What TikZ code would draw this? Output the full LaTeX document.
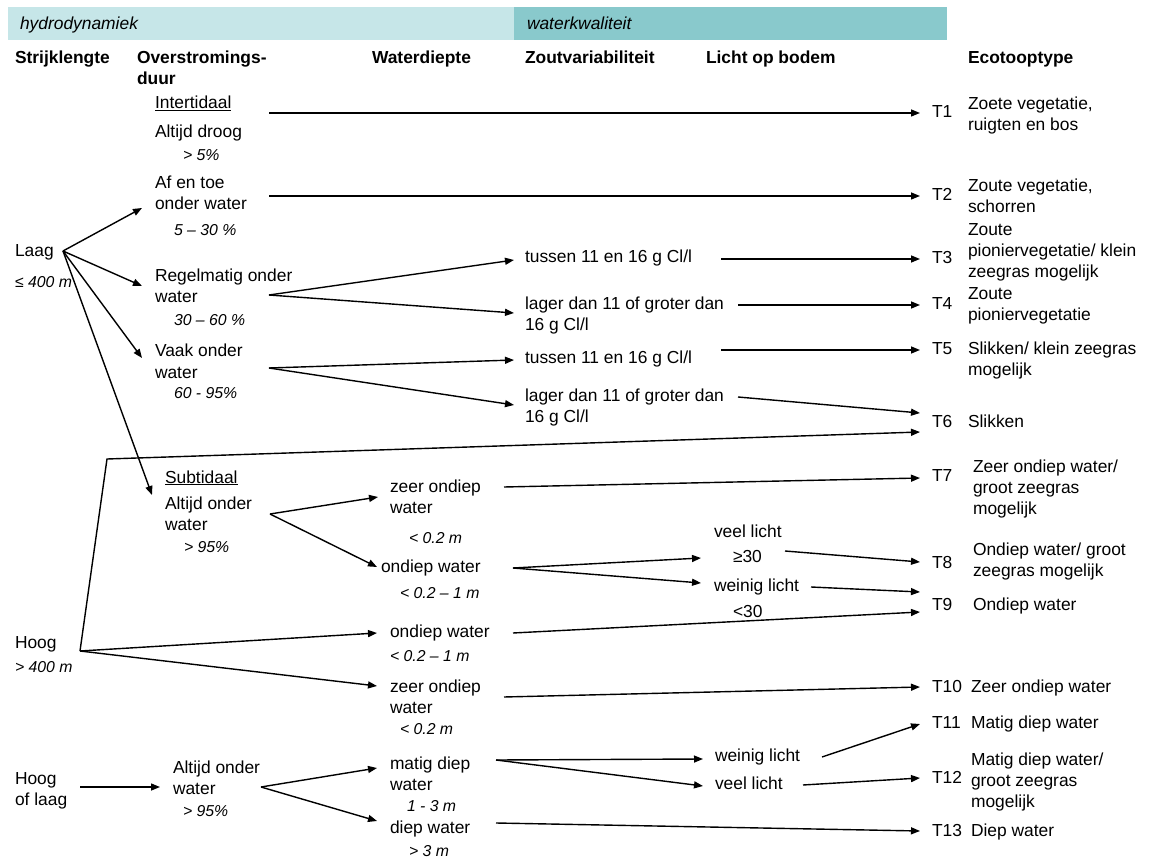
\documentclass[tikz,border=0pt]{standalone}
\usepackage{fontspec}
\setmainfont{Liberation Sans}
\usetikzlibrary{arrows.meta}
\definecolor{bandlight}{RGB}{198,230,232}
\definecolor{banddark}{RGB}{137,201,204}
\newcommand\fnreg{\fontsize{17.4}{21}\selectfont}
\newcommand\fnital{\fontsize{15.8}{21}\selectfont\itshape}
\newcommand\mlines[1]{\begin{tabular}[t]{@{}l@{}}#1\end{tabular}}
\tikzset{
  txt/.style={anchor=base west, inner sep=0pt, outer sep=0pt, font=\fnreg},
  itx/.style={txt, font=\fnital},
  hdr/.style={txt, font=\fnreg\bfseries},
  band/.style={txt, font=\fnreg\itshape},
  arr/.style={-{Triangle[length=9pt,width=7pt]}, line width=1.4pt},
  ln/.style={line width=1.4pt}
}
\begin{document}
\begin{tikzpicture}[x=1pt,y=-1pt]
\fill[white] (0,0) rectangle (1151,858);
\useasboundingbox (0,0) rectangle (1151,858);
% header bands
\fill[bandlight] (8,7) rectangle (514,40);
\fill[banddark] (514,7) rectangle (947,40);
\node[band] (hyd) at (20,30) {hydrodynamiek};
\node[band] (wq) at (527,30) {waterkwaliteit};
% column headers
\node[hdr] (h1) at (15,64) {Strijklengte};
\node[hdr] (h2) at (137,64) {\mlines{Overstromings-\\duur}};
\node[hdr] (h3) at (372,64) {Waterdiepte};
\node[hdr] (h4) at (525,64) {Zoutvariabiliteit};
\node[hdr] (h5) at (706,64) {Licht op bodem};
\node[hdr] (h6) at (968,64) {Ecotooptype};
% column 1
\node[txt] (laag) at (15,257) {Laag};
\node[itx] (laagv) at (15,288) {≤ 400 m};
\node[txt] (hoog) at (15,648) {Hoog};
\node[itx] (hoogv) at (15,672) {> 400 m};
\node[txt] (hol) at (15,784) {\mlines{Hoog\\of laag}};
% column 2
\node[txt] (inter) at (155,109) {\underline{Intertidaal}};
\node[txt] (droog) at (155,138) {Altijd droog};
\node[itx] (p5) at (183,161) {> 5\%};
\node[txt] (afen) at (155,189) {\mlines{Af en toe\\onder water}};
\node[itx] (p530) at (174,236) {5 – 30 \%};
\node[txt] (regel) at (155,282) {\mlines{Regelmatig onder\\water}};
\node[itx] (p3060) at (174,326) {30 – 60 \%};
\node[txt] (vaak) at (155,357) {\mlines{Vaak onder\\water}};
\node[itx] (p6095) at (174,399) {60 - 95\%};
\node[txt] (sub) at (165,483) {\underline{Subtidaal}};
\node[txt] (altA) at (165,509) {\mlines{Altijd onder\\water}};
\node[itx] (p95a) at (184,552) {> 95\%};
\node[txt] (altB) at (173,773) {\mlines{Altijd onder\\water}};
\node[itx] (p95b) at (183,816) {> 95\%};
% column 3
\node[txt] (zoA) at (390,492) {\mlines{zeer ondiep\\water}};
\node[itx] (dzoA) at (409,543) {< 0.2 m};
\node[txt] (onA) at (381,572) {ondiep water};
\node[itx] (donA) at (400,598) {< 0.2 – 1 m};
\node[txt] (onB) at (390,637) {ondiep water};
\node[itx] (donB) at (390,661) {< 0.2 – 1 m};
\node[txt] (zoB) at (390,692) {\mlines{zeer ondiep\\water}};
\node[itx] (dzoB) at (400,734) {< 0.2 m};
\node[txt] (md) at (390,769) {\mlines{matig diep\\water}};
\node[itx] (dmd) at (407,811) {1 - 3 m};
\node[txt] (dw) at (390,833) {diep water};
\node[itx] (ddw) at (409,856) {> 3 m};
% column 4
\node[txt] (z3) at (525,263) {tussen 11 en 16 g Cl/l};
\node[txt] (z4) at (525,310) {\mlines{lager dan 11 of groter dan\\16 g Cl/l}};
\node[txt] (z5) at (525,364) {tussen 11 en 16 g Cl/l};
\node[txt] (z6) at (525,401) {\mlines{lager dan 11 of groter dan\\16 g Cl/l}};
% column 5
\node[txt] (vlA) at (714,537) {veel licht};
\node[txt] (ge30) at (733,562) {≥30};
\node[txt] (wlA) at (714,591) {weinig licht};
\node[txt] (lt30) at (733,617) {<30};
\node[txt] (wlB) at (715,761) {weinig licht};
\node[txt] (vlB) at (715,789) {veel licht};
% T labels
\node[txt] (T1) at (932,118) {T1};
\node[txt] (T2) at (932,201) {T2};
\node[txt] (T3) at (932,264) {T3};
\node[txt] (T4) at (932,310) {T4};
\node[txt] (T5) at (932,355) {T5};
\node[txt] (T6) at (932,428) {T6};
\node[txt] (T7) at (932,481) {T7};
\node[txt] (T8) at (932,568) {T8};
\node[txt] (T9) at (932,610) {T9};
\node[txt] (T10) at (932,692) {T10};
\node[txt] (T11) at (932,728) {T11};
\node[txt] (T12) at (932,783) {T12};
\node[txt] (T13) at (932,836) {T13};
% ecotope descriptions
\node[txt] (e1) at (968,110) {\mlines{Zoete vegetatie,\\ruigten en bos}};
\node[txt] (e2) at (968,192) {\mlines{Zoute vegetatie,\\schorren}};
\node[txt] (e3) at (968,236) {\mlines{Zoute\\pioniervegetatie/ klein\\zeegras mogelijk}};
\node[txt] (e4) at (968,300) {\mlines{Zoute\\pioniervegetatie}};
\node[txt] (e5) at (968,355) {\mlines{Slikken/ klein zeegras\\mogelijk}};
\node[txt] (e6) at (968,428) {Slikken};
\node[txt] (e7) at (973,472) {\mlines{Zeer ondiep water/\\groot zeegras\\mogelijk}};
\node[txt] (e8) at (973,555) {\mlines{Ondiep water/ groot\\zeegras mogelijk}};
\node[txt] (e9) at (973,610) {Ondiep water};
\node[txt] (e10) at (971,692) {Zeer ondiep water};
\node[txt] (e11) at (971,728) {Matig diep water};
\node[txt] (e12) at (971,765) {\mlines{Matig diep water/\\groot zeegras\\mogelijk}};
\node[txt] (e13) at (971,836) {Diep water};
% connectors
\draw[arr] ([shift={(114,-25)}]droog.base west) -- ([shift={(-12,-5)}]T1.base west);
\draw[arr] ([shift={(114,7)}]afen.base west) -- ([shift={(-12,-5)}]T2.base west);
\draw[arr] ([shift={(48,-6)}]laag.base west) -- ([shift={(-13,19)}]afen.base west);
\draw[arr] ([shift={(48,-6)}]laag.base west) -- ([shift={(-13,4)}]regel.base west);
\draw[arr] ([shift={(48,-6)}]laag.base west) -- ([shift={(-13,1)}]vaak.base west);
\draw[arr] ([shift={(48,-6)}]laag.base west) -- ([shift={(-13,-14)}]altA.base west);
\draw[arr] ([shift={(114,13)}]regel.base west) -- ([shift={(-11,-3)}]z3.base west);
\draw[arr] ([shift={(114,13)}]regel.base west) -- ([shift={(-11,3)}]z4.base west);
\draw[arr] ([shift={(114,11)}]vaak.base west) -- ([shift={(-11,-4)}]z5.base west);
\draw[arr] ([shift={(114,11)}]vaak.base west) -- ([shift={(-11,4)}]z6.base west);
\draw[arr] ([shift={(196,-4)}]z3.base west) -- ([shift={(-12,-5)}]T3.base west);
\draw[arr] ([shift={(213,-5)}]z4.base west) -- ([shift={(-12,-5)}]T4.base west);
\draw[arr] ([shift={(196,-14)}]z5.base west) -- ([shift={(-12,-5)}]T5.base west);
\draw[arr] ([shift={(213,-4)}]z6.base west) -- ([shift={(-12,-15)}]T6.base west);
\draw[arr] ([shift={(65,3)}]hoog.base west) -- ([shift={(92,-189)}]hoog.base west) -- ([shift={(-12,4)}]T6.base west);
\draw[arr] ([shift={(105,5)}]altA.base west) -- ([shift={(-12,5)}]zoA.base west);
\draw[arr] ([shift={(105,5)}]altA.base west) -- ([shift={(-4,-5)}]onA.base west);
\draw[arr] ([shift={(114,-5)}]zoA.base west) -- ([shift={(-12,-3)}]T7.base west);
\draw[arr] ([shift={(132,-4)}]onA.base west) -- ([shift={(-32,-4)}]ge30.base west);
\draw[arr] ([shift={(132,-4)}]onA.base west) -- ([shift={(-13,-8)}]wlA.base west);
\draw[arr] ([shift={(52,-11)}]ge30.base west) -- ([shift={(-12,-6)}]T8.base west);
\draw[arr] ([shift={(97,-4)}]wlA.base west) -- ([shift={(-12,-18)}]T9.base west);
\draw[arr] ([shift={(65,3)}]hoog.base west) -- ([shift={(-13,-4)}]onB.base west);
\draw[arr] ([shift={(65,3)}]hoog.base west) -- ([shift={(-13,-6)}]zoB.base west);
\draw[arr] ([shift={(123,-4)}]onB.base west) -- ([shift={(-12,2)}]T9.base west);
\draw[arr] ([shift={(114,5)}]zoB.base west) -- ([shift={(-12,-5)}]T10.base west);
\draw[arr] ([shift={(65,3)}]hol.base west) -- ([shift={(-13,14)}]altB.base west);
\draw[arr] ([shift={(88,14)}]altB.base west) -- ([shift={(-13,-1)}]md.base west);
\draw[arr] ([shift={(88,14)}]altB.base west) -- ([shift={(-13,-12)}]dw.base west);
\draw[arr] ([shift={(106,-9)}]md.base west) -- ([shift={(-12,-2)}]wlB.base west);
\draw[arr] ([shift={(106,-9)}]md.base west) -- ([shift={(-12,-3)}]vlB.base west);
\draw[arr] ([shift={(107,-4)}]wlB.base west) -- ([shift={(-12,-4)}]T11.base west);
\draw[arr] ([shift={(88,-4)}]vlB.base west) -- ([shift={(-12,-5)}]T12.base west);
\draw[arr] ([shift={(106,-10)}]dw.base west) -- ([shift={(-12,-5)}]T13.base west);
\end{tikzpicture}
\end{document}
